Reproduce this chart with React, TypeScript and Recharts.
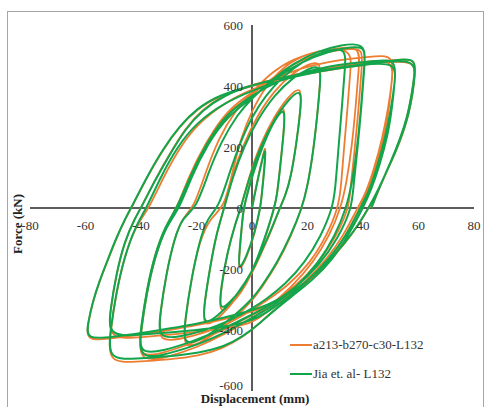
import { LineChart, Line, XAxis, YAxis, ReferenceLine } from "recharts";

// displacement (mm), force (kN) — test curve (Jia et al.), cycle by cycle
const jiaC1 = [[0, 0], [2, 90], [4, 170], [5, 200], [4.5, 130], [3.5, 40], [3, 0], [1, -80], [-2, -160], [-5, -210], [-4.5, -140], [-3.5, -40], [-3, 0]];
const jiaC2 = [[-1, 70], [2, 160], [6, 250], [9, 300], [12, 331], [11.5, 250], [10, 120], [9, 40], [8, 0], [6, -60], [3, -140], [0, -210], [-4, -270], [-8, -310], [-12, -340], [-11, -250], [-9, -150], [-6, -50], [-4, 0]];
const jiaC3 = [[-1, 100], [3, 200], [8, 290], [13, 355], [18, 395], [17.5, 320], [16, 210], [14, 100], [12, 40], [10, 0], [7, -70], [3, -150], [0, -210], [-5, -280], [-11, -345], [-18, -392], [-17, -300], [-15, -190], [-13, -90], [-10, 0]];
const jiaC4 = [[-7, 100], [-3, 200], [2, 290], [8, 370], [15, 430], [20, 455], [25, 472], [24.5, 400], [23.5, 300], [22, 180], [20, 70], [18, 0], [14, -90], [9, -180], [4, -250], [0, -300], [-6, -350], [-13, -400], [-19, -435], [-25, -450], [-24, -360], [-22, -240], [-19, -110], [-16, -30], [-12, 0]];
const jiaC5 = [[-8, 120], [-4, 220], [0, 300], [5, 370], [11, 430], [18, 480], [26, 515], [34, 528], [33.5, 460], [32.5, 340], [31, 180], [30, 60], [29, 0], [25, -90], [19, -180], [12, -250], [5, -300], [0, -330], [-8, -370], [-18, -405], [-26, -422], [-34, -430], [-33, -340], [-31, -220], [-28, -100], [-25, -30], [-20, 0]];
const jiaC6 = [[-16, 110], [-11, 220], [-5, 310], [0, 360], [7, 420], [15, 475], [24, 515], [32, 535], [41, 542], [40.5, 470], [39.5, 350], [38, 200], [36, 80], [34, 0], [30, -90], [24, -180], [16, -260], [8, -320], [0, -360], [-10, -410], [-20, -450], [-30, -478], [-41, -498], [-40, -400], [-38, -280], [-35, -160], [-31, -60], [-26, 0]];
const jiaC6b = [[-22, 100], [-16, 210], [-9, 300], [0, 360], [9, 430], [18, 480], [28, 515], [36, 528], [41, 530], [40.5, 460], [39.5, 340], [38, 190], [36.5, 70], [36, 0], [31, -100], [24, -190], [16, -260], [8, -310], [0, -350], [-10, -395], [-22, -440], [-32, -468], [-41, -480], [-40, -390], [-38, -270], [-35, -150], [-31, -55], [-27, 0]];
const jiaC7 = [[-22, 110], [-16, 220], [-9, 310], [0, 370], [10, 420], [22, 455], [35, 475], [45, 483], [52, 487], [51.5, 420], [50.5, 330], [49, 240], [46, 140], [43, 60], [40, 0], [35, -85], [29, -170], [22, -235], [14, -292], [8, -335], [3, -377], [-3, -420], [-10, -455], [-19, -475], [-30, -487], [-42, -494], [-52, -498], [-51, -400], [-49, -280], [-46, -160], [-42, -60], [-38, 0]];
const jiaC7b = [[-33, 100], [-27, 200], [-20, 280], [-10, 345], [0, 385], [12, 425], [25, 450], [40, 470], [52, 480], [51.5, 410], [50, 320], [48, 230], [45, 130], [42, 50], [39, 0], [34, -90], [28, -165], [20, -240], [12, -300], [5, -345], [0, -370], [-10, -390], [-25, -405], [-40, -415], [-52, -423], [-51, -330], [-49, -220], [-46, -110], [-42, -30], [-40, 0]];
const jiaC8 = [[-35, 90], [-30, 170], [-24, 260], [-18, 320], [-10, 370], [0, 403], [12, 430], [25, 452], [40, 472], [52, 485], [59, 492], [58.7, 440], [58, 380], [56.5, 310], [54.5, 250], [52, 190], [48.5, 120], [45, 50], [42, 0], [38, -60], [33, -120], [27, -180], [20, -240], [12, -290], [5, -320], [0, -335], [-10, -360], [-20, -380], [-30, -395], [-40, -410], [-50, -422], [-60, -433], [-59, -373], [-57.5, -310], [-55, -240], [-52, -170], [-49, -100], [-46, -40], [-43, 10], [-38, 100], [-32, 195], [-26, 270], [-20, 325], [-12, 370], [0, 403]];
const jiaC8b = [[12, 430], [30, 458], [45, 478], [59, 488], [58.5, 430], [57.5, 370], [56, 300], [53.5, 230], [50, 150], [46, 70], [43, 0]];

// numerical model a213-b270-c30-L132
const modC1 = [[0, 0], [2, 95], [4, 175], [5, 210], [4.5, 140], [3.5, 45], [3, 0], [1, -85], [-2, -165], [-5, -215], [-4.5, -145], [-3.5, -45], [-3, 0]];
const modC2 = [[-1, 75], [2, 170], [6, 260], [9, 310], [12, 340], [11.5, 255], [10, 125], [9, 40], [8, 0], [6, -65], [3, -145], [0, -215], [-4, -280], [-8, -320], [-12, -350], [-11, -255], [-9, -150], [-6, -50], [-4, 0]];
const modC3 = [[-1, 105], [3, 210], [8, 300], [13, 365], [18, 405], [17.5, 325], [16, 210], [14, 100], [12, 40], [10, 0], [7, -75], [3, -155], [0, -215], [-5, -290], [-11, -355], [-18, -400], [-17, -305], [-15, -190], [-13, -90], [-10, 0]];
const modC4 = [[-7, 110], [-3, 210], [2, 305], [8, 385], [15, 445], [20, 470], [25, 485], [24.5, 405], [23.5, 300], [22, 180], [20, 70], [18, 0], [14, -95], [9, -185], [4, -255], [0, -305], [-6, -360], [-13, -410], [-19, -445], [-25, -460], [-24, -365], [-22, -240], [-19, -110], [-15, -30], [-10, 0]];
const modC5 = [[-7, 120], [-4, 230], [0, 320], [5, 400], [11, 460], [18, 500], [26, 518], [36, 522], [35.5, 455], [34.5, 335], [33, 180], [32, 60], [31, 0], [27, -90], [21, -180], [13, -255], [5, -305], [0, -335], [-8, -378], [-18, -412], [-26, -430], [-34, -440], [-33, -345], [-31, -220], [-28, -100], [-25, -30], [-21, 0]];
const modC6 = [[-17, 110], [-12, 230], [-6, 320], [0, 380], [7, 445], [15, 490], [24, 515], [32, 526], [39, 528], [38.5, 460], [37.5, 345], [36, 200], [34, 80], [32, 0], [28, -90], [22, -180], [14, -262], [6, -325], [0, -362], [-10, -415], [-20, -458], [-30, -488], [-41, -508], [-40, -405], [-38, -280], [-35, -160], [-31, -60], [-27, 0]];
const modC6b = [[-23, 100], [-17, 210], [-10, 305], [0, 370], [9, 440], [18, 488], [28, 515], [36, 522], [40, 522], [39.5, 455], [38.5, 335], [37, 190], [35.5, 70], [35, 0], [30, -100], [23, -192], [15, -262], [7, -315], [0, -352], [-10, -400], [-22, -445], [-32, -476], [-41, -492], [-40, -395], [-38, -272], [-35, -150], [-31, -55], [-27, 0]];
const modC7 = [[-22, 115], [-16, 225], [-9, 320], [0, 380], [10, 435], [22, 470], [35, 490], [45, 498], [51, 500], [50.5, 425], [49.5, 335], [48, 245], [45, 140], [42, 60], [39, 0], [34, -88], [28, -175], [21, -240], [13, -298], [7, -342], [2, -385], [-4, -428], [-11, -462], [-19, -485], [-30, -497], [-42, -504], [-52, -508], [-51, -405], [-49, -282], [-46, -160], [-42, -60], [-37, 0]];
const modC7b = [[-32, 100], [-26, 200], [-19, 282], [-9, 350], [0, 390], [12, 430], [25, 455], [40, 478], [51, 490], [50.5, 415], [49, 322], [47, 230], [44, 128], [41, 48], [38, 0], [33, -90], [27, -168], [19, -244], [11, -305], [4, -350], [0, -378], [-10, -396], [-25, -412], [-40, -424], [-52, -432], [-51, -335], [-49, -222], [-46, -110], [-42, -30], [-40, 0]];
const modC8 = [[-35, 92], [-30, 172], [-24, 262], [-18, 322], [-10, 372], [0, 404], [12, 432], [25, 454], [40, 474], [52, 486], [59, 490], [58.7, 438], [58, 378], [56.5, 308], [54.5, 248], [52, 188], [48.5, 118], [45, 48], [42, 0], [38, -62], [33, -122], [27, -183], [20, -243], [12, -293], [5, -324], [0, -340], [-10, -365], [-20, -385], [-30, -400], [-40, -415], [-50, -427], [-60, -438], [-59, -376], [-57.5, -312], [-55, -242], [-52, -172], [-49, -102], [-46, -42], [-43, 8], [-38, 98], [-32, 193], [-26, 268], [-20, 323], [-12, 368], [0, 400]];
const modC8b = [[12, 428], [30, 456], [45, 476], [59, 486], [58.5, 428], [57.5, 368], [56, 298], [53.5, 228], [50, 148], [46, 68], [43, 0]];

const xTicks = [-80, -60, -40, -20, 0, 20, 40, 60, 80];
const yTicks = [-600, -400, -200, 0, 200, 400, 600];

const toPts = (pairs: number[][]) => pairs.map(([x, y]) => ({ x, y }));

const jiaData = toPts([...jiaC1, ...jiaC2, ...jiaC3, ...jiaC4, ...jiaC5, ...jiaC6, ...jiaC6b, ...jiaC7, ...jiaC7b, ...jiaC8, ...jiaC8b]);
const modelData = toPts([...modC1, ...modC2, ...modC3, ...modC4, ...modC5, ...modC6, ...modC6b, ...modC7, ...modC7b, ...modC8, ...modC8b]);

const W = 484;
const H = 407;
const Y_AXIS_W = 30;
const X_AXIS_H = 16;
const MARGIN = { top: 25, right: 10, bottom: 0, left: 0 };
const PLOT_W = W - Y_AXIS_W - MARGIN.right;
const PLOT_H = H - MARGIN.top - X_AXIS_H;
const ZERO_X = Y_AXIS_W + PLOT_W / 2;
const ZERO_Y = MARGIN.top + PLOT_H / 2;

const FONT = "'Liberation Serif', 'Times New Roman', serif";
const ORANGE = "#ED7D31";
const GREEN = "#13A54B";

const XTick = (props: any) => (
  <text x={props.x} y={ZERO_Y + 17} textAnchor="middle" dominantBaseline="central" fontSize={13} fontFamily={FONT} fill="#333">
    {props.payload.value}
  </text>
);

// the lowest label sits a little above its tick, clear of the axis title
const YTick = (props: any) => (
  <text
    x={ZERO_X - 9}
    y={props.y}
    dy={props.payload.value === -600 ? -6 : 0}
    textAnchor="end"
    dominantBaseline="central"
    fontSize={13}
    fontFamily={FONT}
    fill="#333"
  >
    {props.payload.value}
  </text>
);

export default function App() {
  return (
    <div style={{ position: "relative", width: W, height: H, overflow: "hidden", background: "#fff" }}>
      <style>{`body{margin:0;overflow:hidden}`}</style>
      <div
        style={{
          position: "absolute",
          left: 7,
          top: 11,
          width: 477,
          height: 420,
          border: "1px solid #a6a6a6",
          boxSizing: "border-box",
        }}
      />
      <LineChart width={W} height={H} margin={MARGIN} style={{ position: "absolute", left: 0, top: 0 }}>
        <XAxis
          type="number"
          dataKey="x"
          domain={[-80, 80]}
          ticks={xTicks}
          interval={0}
          allowDataOverflow
          axisLine={false}
          tickLine={false}
          height={X_AXIS_H}
          tick={XTick}
        />
        <YAxis
          type="number"
          dataKey="y"
          domain={[-600, 600]}
          ticks={yTicks}
          interval={0}
          allowDataOverflow
          axisLine={false}
          tickLine={false}
          width={Y_AXIS_W}
          tick={YTick}
        />
        <ReferenceLine y={0} stroke="#262626" strokeWidth={1.5} />
        <ReferenceLine x={0} stroke="#262626" strokeWidth={1.5} />
        <Line
          data={modelData}
          dataKey="y"
          name="a213-b270-c30-L132"
          type="basis"
          stroke={ORANGE}
          strokeWidth={1.8}
          dot={false}
          isAnimationActive={false}
        />
        <Line
          data={jiaData}
          dataKey="y"
          name="Jia et. al- L132"
          type="basis"
          stroke={GREEN}
          strokeWidth={2}
          dot={false}
          isAnimationActive={false}
        />
      </LineChart>
      <div
        style={{
          position: "absolute",
          left: 18,
          top: 224,
          transform: "translate(-50%, -50%) rotate(-90deg)",
          whiteSpace: "nowrap",
          fontFamily: FONT,
          fontWeight: "bold",
          fontSize: 13,
          color: "#222",
        }}
      >
        Force (kN)
      </div>
      <div
        style={{
          position: "absolute",
          left: 255,
          top: 399,
          transform: "translate(-50%, -50%)",
          whiteSpace: "nowrap",
          fontFamily: FONT,
          fontWeight: "bold",
          fontSize: 13,
          color: "#222",
        }}
      >
        Displacement (mm)
      </div>
      {[
        { label: "a213-b270-c30-L132", color: ORANGE, top: 345 },
        { label: "Jia et. al- L132", color: GREEN, top: 374 },
      ].map((item) => (
        <div
          key={item.label}
          style={{
            position: "absolute",
            left: 290,
            top: item.top,
            transform: "translateY(-50%)",
            display: "flex",
            alignItems: "center",
            whiteSpace: "nowrap",
            fontFamily: FONT,
            fontSize: 13,
            color: "#333",
          }}
        >
          <span style={{ display: "inline-block", width: 22, height: 2, background: item.color, marginRight: 1 }} />
          {item.label}
        </div>
      ))}
    </div>
  );
}
